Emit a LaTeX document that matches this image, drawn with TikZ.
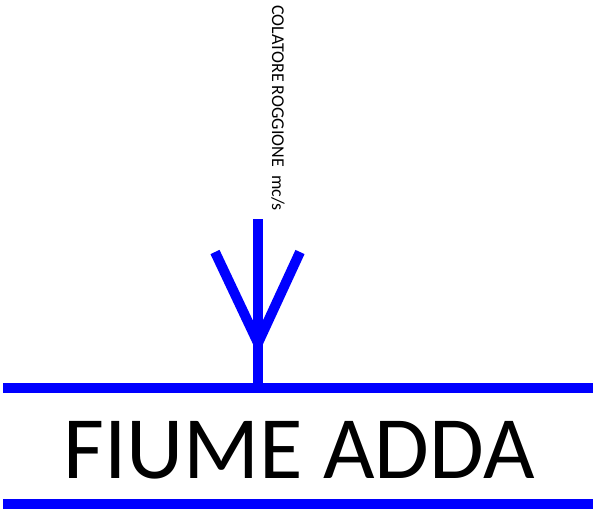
\documentclass[tikz,border=0pt]{standalone}
\usepackage{fontspec}
\setmainfont{Carlito}
\definecolor{riverblue}{RGB}{0,0,255}
\begin{document}
\begin{tikzpicture}[x=1pt,y=-1pt,
  bar/.style={draw=riverblue,line width=10pt,line cap=butt},
  lbl/.style={inner sep=0pt,font=\fontsize{18}{21}\selectfont}]
\useasboundingbox (0,0) rectangle (601,509);
% river banks
\coordinate (tl) at (3,388);
\coordinate (tr) at (593,388);
\coordinate (bl) at (3,503.5);
\coordinate (br) at (593,503.5);
\draw[bar] (tl) -- (tr);
\draw[bar] (bl) -- (br);
% inflow symbol
\coordinate (stemtop) at (258,219);
\coordinate (stembot) at (258,388);
\coordinate (join) at (258,343);
\coordinate (armL) at (215,252);
\coordinate (armR) at (300,252);
\draw[bar] (stemtop) -- (stembot);
\draw[bar,line join=miter] (armL) -- (join) -- (armR);
% labels
\node[lbl,rotate=-90,anchor=base west] (col) at (272,5) {COLATORE ROGGIONE \ mc/s};
\node[inner sep=0pt,anchor=base,font=\fontsize{89}{100}\selectfont] (fiume) at (299,478) {FIUME ADDA};
\end{tikzpicture}
\end{document}
